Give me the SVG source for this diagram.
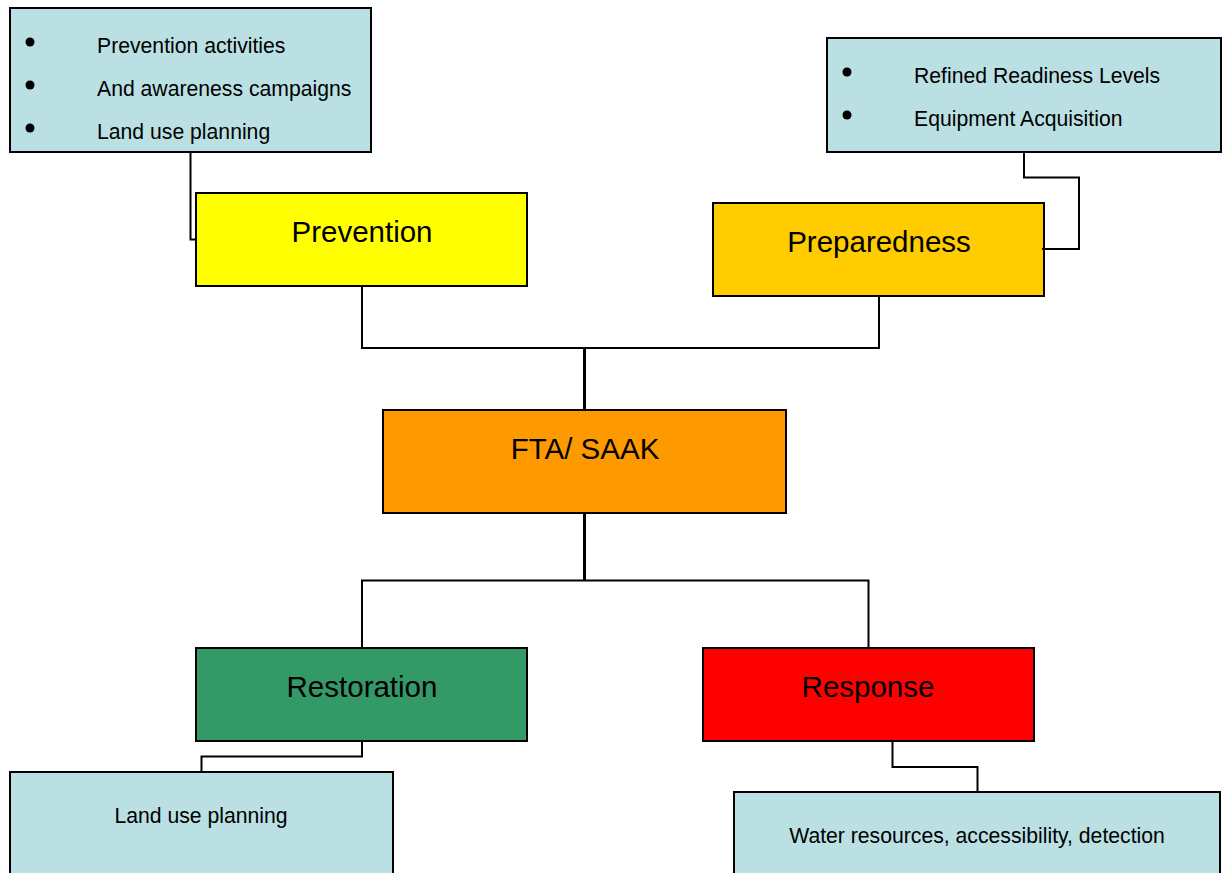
<svg xmlns="http://www.w3.org/2000/svg" width="1224" height="873" viewBox="0 0 1224 873">
<style>
.box{stroke:#000;stroke-width:2}
.note{fill:#BAE0E3}
.big{font-family:"Liberation Sans",Arial,sans-serif;font-size:29.5px;fill:#000;text-anchor:middle}
.sm{font-family:"Liberation Sans",Arial,sans-serif;font-size:21.2px;fill:#000}
.mid{text-anchor:middle}
.c{fill:none;stroke:#000;stroke-width:2}
.ct{fill:none;stroke:#000;stroke-width:3}
</style>
<rect width="1224" height="873" fill="#fff"/>
<g id="prevention-notes">
<rect class="box note" x="10" y="8" width="361" height="144"/>
<circle cx="30" cy="42" r="4.5"/>
<circle cx="30" cy="85" r="4.5"/>
<circle cx="30" cy="128" r="4.5"/>
<text class="sm" x="97" y="53">Prevention activities</text>
<text class="sm" x="97" y="96">And awareness campaigns</text>
<text class="sm" x="97" y="139">Land use planning</text>
</g>
<g id="preparedness-notes">
<rect class="box note" x="827" y="38" width="394" height="114"/>
<circle cx="847" cy="72" r="4.5"/>
<circle cx="847" cy="115" r="4.5"/>
<text class="sm" x="914" y="83">Refined Readiness Levels</text>
<text class="sm" x="914" y="126">Equipment Acquisition</text>
</g>
<g id="prevention">
<rect class="box" x="196" y="193" width="331" height="93" fill="#FFFF00"/>
<text class="big" x="362" y="242">Prevention</text>
</g>
<g id="preparedness">
<rect class="box" x="713" y="203" width="331" height="93" fill="#FFCC00"/>
<text class="big" x="879" y="252">Preparedness</text>
</g>
<g id="fta-saak">
<rect class="box" x="383" y="410" width="403" height="103" fill="#FF9900"/>
<text class="big" x="585" y="459">FTA/ SAAK</text>
</g>
<g id="restoration">
<rect class="box" x="196" y="648" width="331" height="93" fill="#339966"/>
<text class="big" x="362" y="697">Restoration</text>
</g>
<g id="response">
<rect class="box" x="703" y="648" width="331" height="93" fill="#FF0000"/>
<text class="big" x="868" y="697">Response</text>
</g>
<g id="restoration-notes">
<rect class="box note" x="10" y="772" width="383" height="110"/>
<text class="sm mid" x="201" y="823">Land use planning</text>
</g>
<g id="response-notes">
<rect class="box note" x="734" y="792" width="486" height="90"/>
<text class="sm mid" x="977" y="843">Water resources, accessibility, detection</text>
</g>
<g id="connectors">
<polyline class="c" points="190.5,153 190.5,239.5 196,239.5"/>
<polyline class="c" points="1024,153 1024,177.5 1079,177.5 1079,249 1042,249"/>
<polyline class="c" points="362,287 362,348 584,348"/>
<polyline class="c" points="879,297 879,348 584,348"/>
<line class="ct" x1="584.5" y1="347" x2="584.5" y2="409"/>
<line class="ct" x1="584.5" y1="514" x2="584.5" y2="581"/>
<polyline class="c" points="362,647 362,580.5 868.5,580.5 868.5,647"/>
<polyline class="c" points="362,742 362,756.5 201.5,756.5 201.5,771"/>
<polyline class="c" points="892.5,742 892.5,767 977.5,767 977.5,791"/>
</g>
</svg>
